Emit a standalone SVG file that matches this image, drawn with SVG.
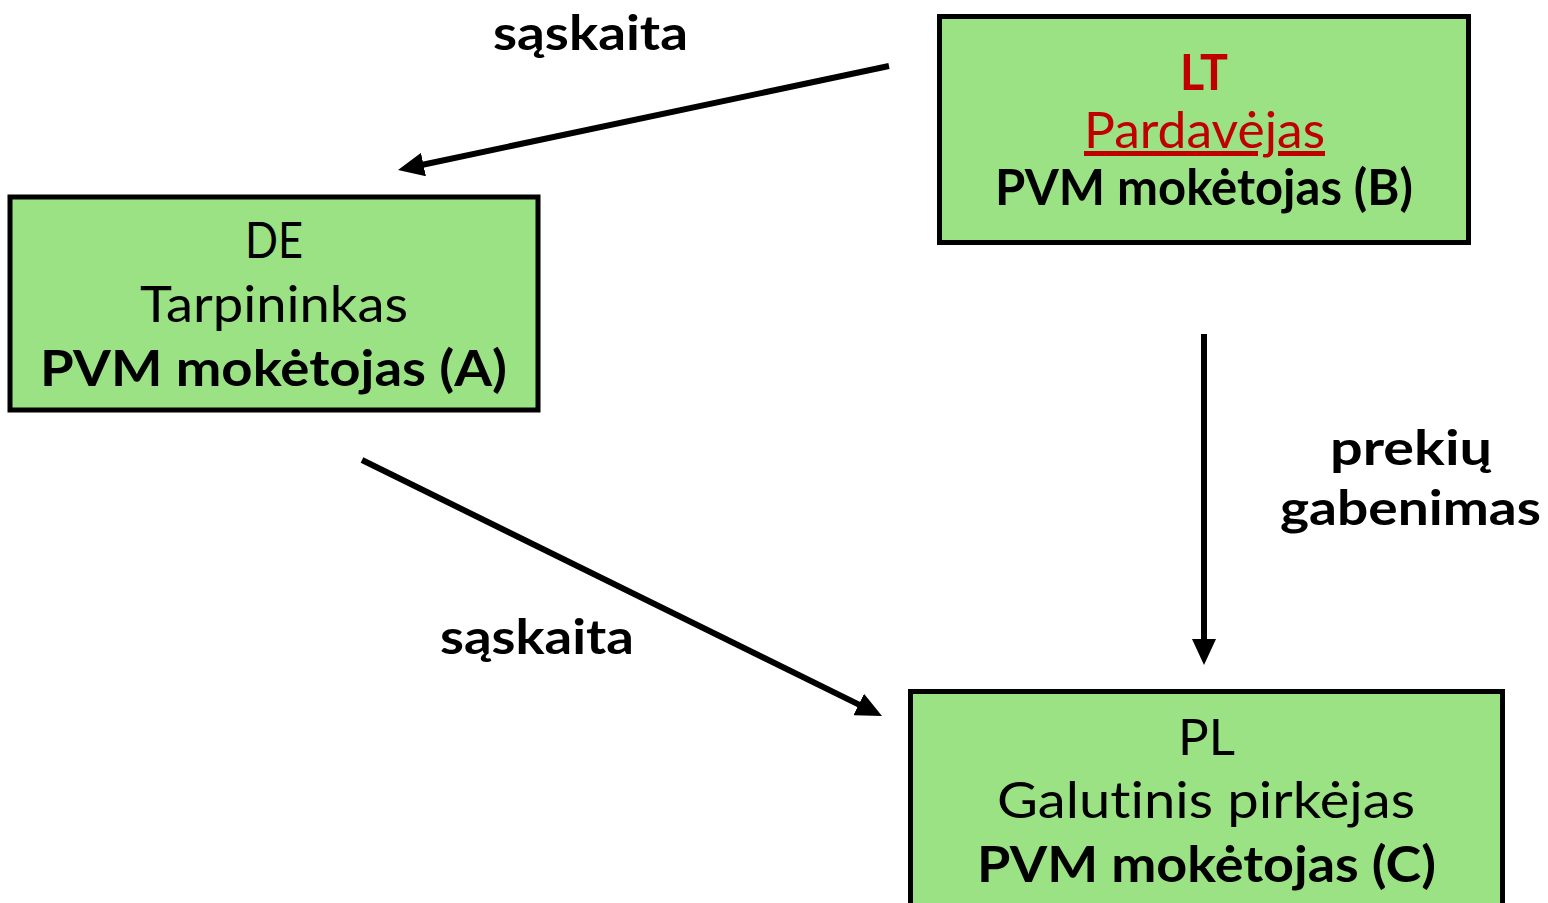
<svg xmlns="http://www.w3.org/2000/svg" width="1548" height="903" viewBox="0 0 1548 903">
<style>
.box{fill:#9ae283;stroke:#000;stroke-width:5}
.t{font-family:Lato,"Open Sans","DejaVu Sans",sans-serif;font-size:50px;text-anchor:middle;fill:#000;font-variant-ligatures:none}
.b{font-weight:bold}
.red{fill:#c00000}
.lbl{font-family:Lato,"Open Sans","DejaVu Sans",sans-serif;font-size:48px;font-weight:bold;text-anchor:middle;fill:#000;font-variant-ligatures:none}
.c{stroke:#000;stroke-width:6;fill:none;marker-end:url(#ah)}
</style>
<defs>
<marker id="ah" markerUnits="userSpaceOnUse" markerWidth="26" markerHeight="24" viewBox="0 0 26 24" refX="2" refY="12" orient="auto">
<path d="M0,0 L26,12 L0,24 z" fill="#000"/>
</marker>
</defs>
<rect width="1548" height="903" fill="#fff"/>
<g id="connectors">
<line class="c" x1="889" y1="66" x2="421.5" y2="165"/>
<line class="c" x1="362" y1="460" x2="860.5" y2="705.4"/>
<line class="c" x1="1204" y1="334" x2="1204" y2="641"/>
<text class="lbl" x="590.5" y="50" textLength="195" lengthAdjust="spacingAndGlyphs">sąskaita</text>
<text class="lbl" x="537" y="654" textLength="194" lengthAdjust="spacingAndGlyphs">sąskaita</text>
<text class="lbl" x="1411" y="465" textLength="162" lengthAdjust="spacingAndGlyphs">prekių</text>
<text class="lbl" x="1410.5" y="525" textLength="261" lengthAdjust="spacingAndGlyphs">gabenimas</text>
</g>
<g id="node-B">
<rect class="box" x="939.5" y="16.5" width="529" height="226"/>
<text class="t b red" x="1204" y="90" textLength="48" lengthAdjust="spacingAndGlyphs">LT</text>
<text class="t red" x="1204.5" y="148" text-decoration="underline" textLength="241" lengthAdjust="spacingAndGlyphs">Pardavėjas</text>
<text class="t b" x="1204" y="205" textLength="418" lengthAdjust="spacingAndGlyphs">PVM mokėtojas (B)</text>
</g>
<g id="node-A">
<rect class="box" x="10" y="197" width="528" height="213"/>
<text class="t" x="274" y="258" textLength="58" lengthAdjust="spacingAndGlyphs">DE</text>
<text class="t" x="274" y="322" textLength="268" lengthAdjust="spacingAndGlyphs">Tarpininkas</text>
<text class="t b" x="273.5" y="386" textLength="467" lengthAdjust="spacingAndGlyphs">PVM mokėtojas (A)</text>
</g>
<g id="node-C">
<rect class="box" x="910.5" y="691.5" width="592" height="230"/>
<text class="t" x="1206.5" y="755" textLength="57" lengthAdjust="spacingAndGlyphs">PL</text>
<text class="t" x="1206" y="818" textLength="418" lengthAdjust="spacingAndGlyphs">Galutinis pirkėjas</text>
<text class="t b" x="1206.5" y="882" textLength="459" lengthAdjust="spacingAndGlyphs">PVM mokėtojas (C)</text>
</g>
</svg>
